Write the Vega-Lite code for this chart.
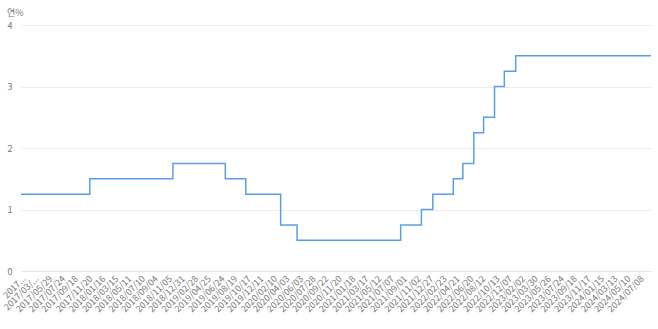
{
  "$schema": "https://vega.github.io/schema/vega-lite/v6.json",
  "width": 630,
  "height": 246,
  "autosize": {"type": "none"},
  "padding": {"left": 21, "top": 25, "right": 7, "bottom": 58},
  "background": "white",
  "config": {"view": {"stroke": null}, "font": "Noto Sans CJK KR"},
  "title": {
    "text": "연%",
    "anchor": "start",
    "frame": "group",
    "dx": -14,
    "dy": 15,
    "offset": 9,
    "baseline": "bottom",
    "fontSize": 9,
    "fontWeight": "normal",
    "color": "#777777",
    "font": "Noto Sans CJK KR"
  },
  "data": {
    "values": [
      {"date": "2017-02-01", "rate": 1.25},
      {"date": "2017-11-30", "rate": 1.5},
      {"date": "2018-11-30", "rate": 1.75},
      {"date": "2019-07-18", "rate": 1.5},
      {"date": "2019-10-16", "rate": 1.25},
      {"date": "2020-03-17", "rate": 0.75},
      {"date": "2020-05-28", "rate": 0.5},
      {"date": "2021-08-26", "rate": 0.75},
      {"date": "2021-11-25", "rate": 1.0},
      {"date": "2022-01-14", "rate": 1.25},
      {"date": "2022-04-14", "rate": 1.5},
      {"date": "2022-05-26", "rate": 1.75},
      {"date": "2022-07-13", "rate": 2.25},
      {"date": "2022-08-25", "rate": 2.5},
      {"date": "2022-10-12", "rate": 3.0},
      {"date": "2022-11-24", "rate": 3.25},
      {"date": "2023-01-13", "rate": 3.5},
      {"date": "2024-08-29", "rate": 3.5}
    ]
  },
  "mark": {"type": "line", "interpolate": "step-after", "color": "#5b9ee6", "strokeWidth": 1.5},
  "encoding": {
    "x": {
      "field": "date",
      "type": "temporal",
      "scale": {"domain": ["2017-02-01", "2024-08-29"], "nice": false},
      "axis": {
        "title": null,
        "grid": false,
        "ticks": false,
        "domainColor": "#e0e6f1",
        "domainWidth": 1,
        "labelAngle": -45,
        "labelFontSize": 9,
        "labelColor": "#777777",
        "labelPadding": 3,
        "labelOverlap": false,
        "labelFlush": false,
        "labelBound": false,
        "values": ["2017-02-01", "2017-03-29", "2017-05-29", "2017-07-24", "2017-09-18", "2017-11-20", "2018-01-16", "2018-03-15", "2018-05-11", "2018-07-10", "2018-09-04", "2018-11-05", "2018-12-31", "2019-02-28", "2019-04-25", "2019-06-24", "2019-08-19", "2019-10-17", "2019-12-11", "2020-02-10", "2020-04-03", "2020-06-03", "2020-07-28", "2020-09-22", "2020-11-20", "2021-01-18", "2021-03-17", "2021-05-12", "2021-07-07", "2021-09-01", "2021-11-02", "2021-12-27", "2022-02-23", "2022-04-21", "2022-06-20", "2022-08-12", "2022-10-13", "2022-12-07", "2023-02-02", "2023-03-30", "2023-05-26", "2023-07-24", "2023-09-18", "2023-11-17", "2024-01-15", "2024-03-13", "2024-05-10", "2024-07-08"],
        "labelExpr": "timeFormat(datum.value, '%Y/%m/%d') == '2017/02/01' ? '2017...' : (timeFormat(datum.value, '%Y/%m/%d') == '2017/03/29' ? '2017/03/...' : timeFormat(datum.value, '%Y/%m/%d'))"
      }
    },
    "y": {
      "field": "rate",
      "type": "quantitative",
      "scale": {"domain": [0, 4], "nice": false},
      "axis": {
        "values": [0, 1, 2, 3, 4],
        "title": null,
        "domain": false,
        "ticks": false,
        "tickSize": 0,
        "labelPadding": 14,
        "labelAlign": "left",
        "labelFontSize": 9,
        "labelColor": "#777777",
        "gridColor": "#ececec",
        "gridWidth": 1
      }
    }
  }
}
